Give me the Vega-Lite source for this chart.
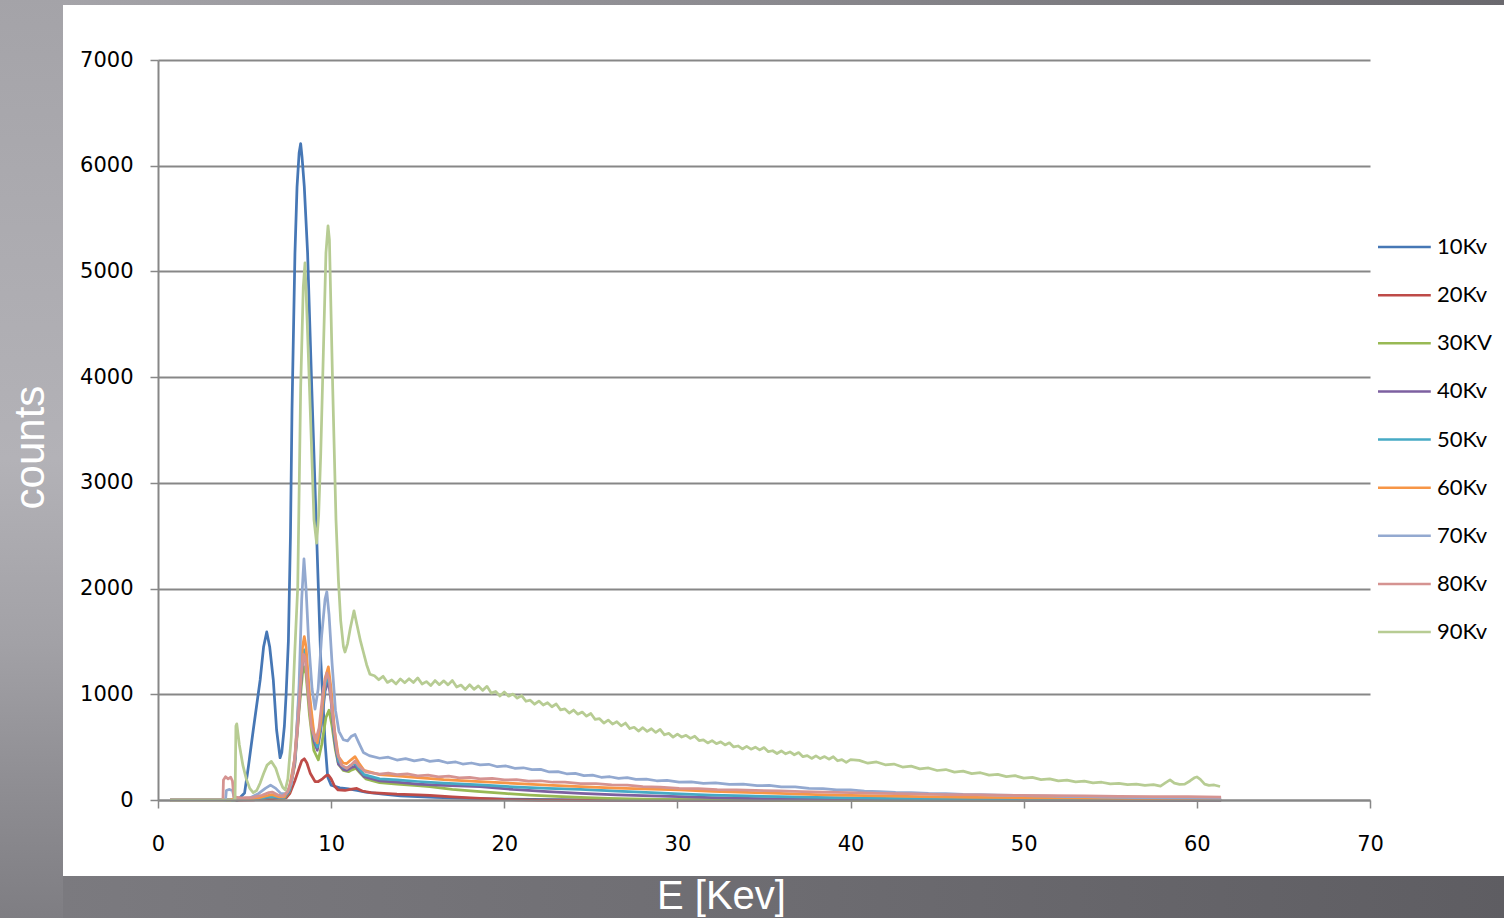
{
"$schema": "https://vega.github.io/schema/vega-lite/v6.json",
"width": 1212, "height": 740,
"autosize": {"type": "none"},
"padding": {"left": 158, "top": 60, "right": 134, "bottom": 118},
"background": "white",
"config": {"view": {"stroke": null}},
"datasets": {
"spectra": [
{"s":"10Kv","e":0.7,"c":0},{"s":"10Kv","e":4.6,"c":0},{"s":"10Kv","e":5.0,"c":66},{"s":"10Kv","e":5.22,"c":315},{"s":"10Kv","e":5.5,"c":660},{"s":"10Kv","e":5.9,"c":1135},{"s":"10Kv","e":6.1,"c":1450},{"s":"10Kv","e":6.28,"c":1590},{"s":"10Kv","e":6.45,"c":1450},{"s":"10Kv","e":6.66,"c":1135},{"s":"10Kv","e":6.85,"c":662},{"s":"10Kv","e":7.05,"c":400},{"s":"10Kv","e":7.15,"c":450},{"s":"10Kv","e":7.3,"c":700},{"s":"10Kv","e":7.4,"c":1000},{"s":"10Kv","e":7.53,"c":1500},{"s":"10Kv","e":7.65,"c":2500},{"s":"10Kv","e":7.74,"c":3700},{"s":"10Kv","e":7.91,"c":5175},{"s":"10Kv","e":8.03,"c":5800},{"s":"10Kv","e":8.15,"c":6120},{"s":"10Kv","e":8.24,"c":6210},{"s":"10Kv","e":8.32,"c":6080},{"s":"10Kv","e":8.45,"c":5800},{"s":"10Kv","e":8.64,"c":5175},{"s":"10Kv","e":8.88,"c":3900},{"s":"10Kv","e":9.07,"c":2960},{"s":"10Kv","e":9.26,"c":2015},{"s":"10Kv","e":9.4,"c":1324},{"s":"10Kv","e":9.65,"c":540},{"s":"10Kv","e":9.8,"c":218},{"s":"10Kv","e":10.0,"c":140},{"s":"10Kv","e":10.5,"c":115},{"s":"10Kv","e":11.0,"c":105},{"s":"10Kv","e":11.5,"c":90},{"s":"10Kv","e":12.0,"c":75},{"s":"10Kv","e":13,"c":55},{"s":"10Kv","e":14,"c":40},{"s":"10Kv","e":16,"c":25},{"s":"10Kv","e":18,"c":15},{"s":"10Kv","e":20,"c":8},{"s":"10Kv","e":23,"c":3},{"s":"10Kv","e":26,"c":0},{"s":"10Kv","e":61.4,"c":0},
{"s":"20Kv","e":0.7,"c":0},{"s":"20Kv","e":4.4,"c":0},{"s":"20Kv","e":5.5,"c":2},{"s":"20Kv","e":6.5,"c":15},{"s":"20Kv","e":7.0,"c":10},{"s":"20Kv","e":7.4,"c":20},{"s":"20Kv","e":7.62,"c":63},{"s":"20Kv","e":7.9,"c":180},{"s":"20Kv","e":8.15,"c":300},{"s":"20Kv","e":8.3,"c":370},{"s":"20Kv","e":8.45,"c":390},{"s":"20Kv","e":8.6,"c":350},{"s":"20Kv","e":8.8,"c":250},{"s":"20Kv","e":9.07,"c":175},{"s":"20Kv","e":9.26,"c":175},{"s":"20Kv","e":9.5,"c":200},{"s":"20Kv","e":9.7,"c":230},{"s":"20Kv","e":9.84,"c":236},{"s":"20Kv","e":10.0,"c":200},{"s":"20Kv","e":10.2,"c":130},{"s":"20Kv","e":10.4,"c":95},{"s":"20Kv","e":10.8,"c":90},{"s":"20Kv","e":11.1,"c":100},{"s":"20Kv","e":11.48,"c":110},{"s":"20Kv","e":11.8,"c":85},{"s":"20Kv","e":12.3,"c":70},{"s":"20Kv","e":12.8,"c":65},{"s":"20Kv","e":13.8,"c":55},{"s":"20Kv","e":15.0,"c":48},{"s":"20Kv","e":15.7,"c":44},{"s":"20Kv","e":17.0,"c":30},{"s":"20Kv","e":18.6,"c":16},{"s":"20Kv","e":20.0,"c":5},{"s":"20Kv","e":21,"c":1},{"s":"20Kv","e":22,"c":0},{"s":"20Kv","e":61.4,"c":0},
{"s":"30KV","e":0.7,"c":0},{"s":"30KV","e":4.4,"c":0},{"s":"30KV","e":5.5,"c":5},{"s":"30KV","e":6.5,"c":25},{"s":"30KV","e":7.0,"c":15},{"s":"30KV","e":7.3,"c":15},{"s":"30KV","e":7.6,"c":80},{"s":"30KV","e":7.9,"c":330},{"s":"30KV","e":8.15,"c":850},{"s":"30KV","e":8.35,"c":1200},{"s":"30KV","e":8.45,"c":1260},{"s":"30KV","e":8.55,"c":1190},{"s":"30KV","e":8.75,"c":800},{"s":"30KV","e":9.0,"c":470},{"s":"30KV","e":9.26,"c":380},{"s":"30KV","e":9.45,"c":520},{"s":"30KV","e":9.7,"c":780},{"s":"30KV","e":9.88,"c":850},{"s":"30KV","e":10.05,"c":700},{"s":"30KV","e":10.25,"c":470},{"s":"30KV","e":10.42,"c":340},{"s":"30KV","e":10.7,"c":280},{"s":"30KV","e":11.0,"c":268},{"s":"30KV","e":11.2,"c":285},{"s":"30KV","e":11.43,"c":300},{"s":"30KV","e":11.7,"c":250},{"s":"30KV","e":12.0,"c":200},{"s":"30KV","e":12.8,"c":165},{"s":"30KV","e":13.8,"c":150},{"s":"30KV","e":15.0,"c":135},{"s":"30KV","e":15.7,"c":126},{"s":"30KV","e":17.0,"c":100},{"s":"30KV","e":18.6,"c":79},{"s":"30KV","e":20.0,"c":62},{"s":"30KV","e":21.5,"c":47},{"s":"30KV","e":23.0,"c":35},{"s":"30KV","e":24.4,"c":25},{"s":"30KV","e":26,"c":15},{"s":"30KV","e":27.3,"c":10},{"s":"30KV","e":29,"c":6},{"s":"30KV","e":31,"c":3},{"s":"30KV","e":34,"c":1},{"s":"30KV","e":36,"c":0},{"s":"30KV","e":61.4,"c":0},
{"s":"40Kv","e":0.7,"c":0},{"s":"40Kv","e":4.4,"c":0},{"s":"40Kv","e":5.5,"c":5},{"s":"40Kv","e":6.5,"c":30},{"s":"40Kv","e":7.0,"c":20},{"s":"40Kv","e":7.3,"c":20},{"s":"40Kv","e":7.6,"c":90},{"s":"40Kv","e":7.9,"c":350},{"s":"40Kv","e":8.15,"c":900},{"s":"40Kv","e":8.35,"c":1300},{"s":"40Kv","e":8.45,"c":1380},{"s":"40Kv","e":8.55,"c":1300},{"s":"40Kv","e":8.75,"c":900},{"s":"40Kv","e":9.0,"c":560},{"s":"40Kv","e":9.2,"c":470},{"s":"40Kv","e":9.4,"c":660},{"s":"40Kv","e":9.65,"c":1030},{"s":"40Kv","e":9.84,"c":1130},{"s":"40Kv","e":10.0,"c":930},{"s":"40Kv","e":10.2,"c":560},{"s":"40Kv","e":10.42,"c":340},{"s":"40Kv","e":10.7,"c":290},{"s":"40Kv","e":10.9,"c":280},{"s":"40Kv","e":11.15,"c":305},{"s":"40Kv","e":11.38,"c":320},{"s":"40Kv","e":11.6,"c":280},{"s":"40Kv","e":11.9,"c":220},{"s":"40Kv","e":12.8,"c":180},{"s":"40Kv","e":13.8,"c":168},{"s":"40Kv","e":15,"c":150},{"s":"40Kv","e":16.5,"c":138},{"s":"40Kv","e":18.6,"c":126},{"s":"40Kv","e":20.5,"c":100},{"s":"40Kv","e":22.5,"c":80},{"s":"40Kv","e":24.4,"c":63},{"s":"40Kv","e":26.5,"c":48},{"s":"40Kv","e":28.5,"c":38},{"s":"40Kv","e":30.1,"c":31},{"s":"40Kv","e":32,"c":23},{"s":"40Kv","e":34,"c":15},{"s":"40Kv","e":35.9,"c":10},{"s":"40Kv","e":38,"c":6},{"s":"40Kv","e":41,"c":3},{"s":"40Kv","e":45,"c":1},{"s":"40Kv","e":50,"c":0},{"s":"40Kv","e":61.4,"c":0},
{"s":"50Kv","e":0.7,"c":0},{"s":"50Kv","e":4.3,"c":0},{"s":"50Kv","e":5.0,"c":5},{"s":"50Kv","e":6.0,"c":20},{"s":"50Kv","e":6.5,"c":35},{"s":"50Kv","e":7.0,"c":25},{"s":"50Kv","e":7.3,"c":25},{"s":"50Kv","e":7.6,"c":100},{"s":"50Kv","e":7.9,"c":380},{"s":"50Kv","e":8.15,"c":950},{"s":"50Kv","e":8.35,"c":1350},{"s":"50Kv","e":8.45,"c":1420},{"s":"50Kv","e":8.55,"c":1350},{"s":"50Kv","e":8.75,"c":950},{"s":"50Kv","e":9.0,"c":600},{"s":"50Kv","e":9.2,"c":500},{"s":"50Kv","e":9.4,"c":700},{"s":"50Kv","e":9.65,"c":1080},{"s":"50Kv","e":9.84,"c":1180},{"s":"50Kv","e":10.0,"c":980},{"s":"50Kv","e":10.2,"c":600},{"s":"50Kv","e":10.42,"c":370},{"s":"50Kv","e":10.7,"c":310},{"s":"50Kv","e":10.9,"c":300},{"s":"50Kv","e":11.15,"c":330},{"s":"50Kv","e":11.38,"c":350},{"s":"50Kv","e":11.6,"c":300},{"s":"50Kv","e":11.9,"c":240},{"s":"50Kv","e":12.8,"c":200},{"s":"50Kv","e":13.8,"c":190},{"s":"50Kv","e":15,"c":175},{"s":"50Kv","e":16.5,"c":160},{"s":"50Kv","e":18.6,"c":142},{"s":"50Kv","e":20.5,"c":125},{"s":"50Kv","e":22.5,"c":110},{"s":"50Kv","e":24.4,"c":101},{"s":"50Kv","e":26.5,"c":85},{"s":"50Kv","e":28.5,"c":70},{"s":"50Kv","e":30.1,"c":57},{"s":"50Kv","e":32,"c":47},{"s":"50Kv","e":34,"c":38},{"s":"50Kv","e":35.9,"c":31},{"s":"50Kv","e":38,"c":25},{"s":"50Kv","e":40,"c":20},{"s":"50Kv","e":41.7,"c":16},{"s":"50Kv","e":44,"c":13},{"s":"50Kv","e":47,"c":10},{"s":"50Kv","e":50,"c":8},{"s":"50Kv","e":55,"c":5},{"s":"50Kv","e":61.4,"c":3},
{"s":"60Kv","e":0.7,"c":0},{"s":"60Kv","e":4.2,"c":0},{"s":"60Kv","e":4.4,"c":15},{"s":"60Kv","e":5.0,"c":10},{"s":"60Kv","e":5.8,"c":20},{"s":"60Kv","e":6.4,"c":45},{"s":"60Kv","e":6.6,"c":50},{"s":"60Kv","e":7.0,"c":30},{"s":"60Kv","e":7.3,"c":30},{"s":"60Kv","e":7.6,"c":120},{"s":"60Kv","e":7.9,"c":400},{"s":"60Kv","e":8.15,"c":1000},{"s":"60Kv","e":8.35,"c":1450},{"s":"60Kv","e":8.45,"c":1545},{"s":"60Kv","e":8.55,"c":1450},{"s":"60Kv","e":8.75,"c":1000},{"s":"60Kv","e":9.0,"c":640},{"s":"60Kv","e":9.2,"c":540},{"s":"60Kv","e":9.4,"c":740},{"s":"60Kv","e":9.65,"c":1150},{"s":"60Kv","e":9.84,"c":1260},{"s":"60Kv","e":10.0,"c":1050},{"s":"60Kv","e":10.2,"c":650},{"s":"60Kv","e":10.42,"c":410},{"s":"60Kv","e":10.7,"c":350},{"s":"60Kv","e":10.9,"c":345},{"s":"60Kv","e":11.15,"c":380},{"s":"60Kv","e":11.38,"c":410},{"s":"60Kv","e":11.6,"c":350},{"s":"60Kv","e":11.9,"c":280},{"s":"60Kv","e":12.8,"c":240},{"s":"60Kv","e":13.8,"c":228},{"s":"60Kv","e":15,"c":212},{"s":"60Kv","e":16.5,"c":192},{"s":"60Kv","e":18.6,"c":173},{"s":"60Kv","e":20.5,"c":158},{"s":"60Kv","e":22.5,"c":140},{"s":"60Kv","e":24.4,"c":126},{"s":"60Kv","e":26.5,"c":112},{"s":"60Kv","e":28.5,"c":102},{"s":"60Kv","e":30.1,"c":95},{"s":"60Kv","e":32,"c":82},{"s":"60Kv","e":34,"c":72},{"s":"60Kv","e":35.9,"c":63},{"s":"60Kv","e":38,"c":52},{"s":"60Kv","e":40,"c":44},{"s":"60Kv","e":41.7,"c":38},{"s":"60Kv","e":44,"c":32},{"s":"60Kv","e":47,"c":26},{"s":"60Kv","e":50,"c":21},{"s":"60Kv","e":53,"c":17},{"s":"60Kv","e":56,"c":13},{"s":"60Kv","e":59,"c":10},{"s":"60Kv","e":61.4,"c":8},
{"s":"70Kv","e":0.7,"c":0},{"s":"70Kv","e":3.9,"c":0},{"s":"70Kv","e":3.95,"c":90},{"s":"70Kv","e":4.1,"c":100},{"s":"70Kv","e":4.3,"c":90},{"s":"70Kv","e":4.4,"c":20},{"s":"70Kv","e":4.8,"c":15},{"s":"70Kv","e":5.3,"c":20},{"s":"70Kv","e":5.8,"c":60},{"s":"70Kv","e":6.2,"c":110},{"s":"70Kv","e":6.5,"c":140},{"s":"70Kv","e":6.8,"c":110},{"s":"70Kv","e":7.1,"c":60},{"s":"70Kv","e":7.4,"c":60},{"s":"70Kv","e":7.7,"c":150},{"s":"70Kv","e":7.95,"c":450},{"s":"70Kv","e":8.15,"c":1100},{"s":"70Kv","e":8.3,"c":1900},{"s":"70Kv","e":8.43,"c":2280},{"s":"70Kv","e":8.55,"c":2000},{"s":"70Kv","e":8.7,"c":1500},{"s":"70Kv","e":8.9,"c":1050},{"s":"70Kv","e":9.07,"c":860},{"s":"70Kv","e":9.25,"c":1050},{"s":"70Kv","e":9.45,"c":1550},{"s":"70Kv","e":9.65,"c":1900},{"s":"70Kv","e":9.75,"c":1970},{"s":"70Kv","e":9.88,"c":1750},{"s":"70Kv","e":10.05,"c":1300},{"s":"70Kv","e":10.25,"c":850},{"s":"70Kv","e":10.45,"c":650},{"s":"70Kv","e":10.7,"c":570},{"s":"70Kv","e":10.95,"c":560},{"s":"70Kv","e":11.15,"c":600},{"s":"70Kv","e":11.38,"c":620},{"s":"70Kv","e":11.6,"c":540},{"s":"70Kv","e":11.86,"c":450},{"s":"70Kv","e":12.2,"c":420},{"s":"70Kv","e":12.8,"c":395},{"s":"70Kv","e":13.3,"c":405},{"s":"70Kv","e":13.8,"c":378},{"s":"70Kv","e":14.3,"c":392},{"s":"70Kv","e":14.8,"c":370},{"s":"70Kv","e":15.3,"c":385},{"s":"70Kv","e":15.7,"c":365},{"s":"70Kv","e":16.2,"c":375},{"s":"70Kv","e":16.7,"c":352},{"s":"70Kv","e":17.2,"c":360},{"s":"70Kv","e":17.6,"c":340},{"s":"70Kv","e":18.1,"c":350},{"s":"70Kv","e":18.6,"c":332},{"s":"70Kv","e":19.1,"c":338},{"s":"70Kv","e":19.6,"c":315},{"s":"70Kv","e":20.1,"c":322},{"s":"70Kv","e":20.6,"c":300},{"s":"70Kv","e":21.1,"c":305},{"s":"70Kv","e":21.6,"c":288},{"s":"70Kv","e":22.1,"c":290},{"s":"70Kv","e":22.6,"c":265},{"s":"70Kv","e":23.1,"c":268},{"s":"70Kv","e":23.6,"c":248},{"s":"70Kv","e":24.1,"c":252},{"s":"70Kv","e":24.6,"c":230},{"s":"70Kv","e":25.1,"c":235},{"s":"70Kv","e":25.6,"c":215},{"s":"70Kv","e":26.1,"c":220},{"s":"70Kv","e":26.6,"c":205},{"s":"70Kv","e":27.1,"c":212},{"s":"70Kv","e":27.6,"c":195},{"s":"70Kv","e":28.2,"c":198},{"s":"70Kv","e":28.8,"c":182},{"s":"70Kv","e":29.4,"c":186},{"s":"70Kv","e":30.1,"c":170},{"s":"70Kv","e":30.8,"c":172},{"s":"70Kv","e":31.5,"c":158},{"s":"70Kv","e":32.2,"c":162},{"s":"70Kv","e":33.0,"c":148},{"s":"70Kv","e":33.8,"c":150},{"s":"70Kv","e":34.6,"c":136},{"s":"70Kv","e":35.3,"c":138},{"s":"70Kv","e":36.0,"c":124},{"s":"70Kv","e":36.8,"c":124},{"s":"70Kv","e":37.6,"c":110},{"s":"70Kv","e":38.4,"c":108},{"s":"70Kv","e":39.2,"c":96},{"s":"70Kv","e":40.0,"c":95},{"s":"70Kv","e":40.8,"c":84},{"s":"70Kv","e":41.7,"c":80},{"s":"70Kv","e":42.6,"c":72},{"s":"70Kv","e":43.5,"c":70},{"s":"70Kv","e":44.5,"c":62},{"s":"70Kv","e":45.5,"c":60},{"s":"70Kv","e":46.5,"c":53},{"s":"70Kv","e":47.5,"c":50},{"s":"70Kv","e":48.5,"c":45},{"s":"70Kv","e":49.5,"c":43},{"s":"70Kv","e":50.5,"c":38},{"s":"70Kv","e":51.5,"c":36},{"s":"70Kv","e":52.5,"c":32},{"s":"70Kv","e":53.5,"c":31},{"s":"70Kv","e":54.5,"c":27},{"s":"70Kv","e":55.5,"c":26},{"s":"70Kv","e":56.5,"c":23},{"s":"70Kv","e":57.5,"c":22},{"s":"70Kv","e":58.5,"c":20},{"s":"70Kv","e":59.5,"c":20},{"s":"70Kv","e":60.5,"c":17},{"s":"70Kv","e":61.4,"c":15},
{"s":"80Kv","e":0.7,"c":0},{"s":"80Kv","e":3.75,"c":0},{"s":"80Kv","e":3.78,"c":190},{"s":"80Kv","e":3.9,"c":220},{"s":"80Kv","e":4.05,"c":200},{"s":"80Kv","e":4.2,"c":215},{"s":"80Kv","e":4.3,"c":180},{"s":"80Kv","e":4.38,"c":30},{"s":"80Kv","e":4.8,"c":20},{"s":"80Kv","e":5.5,"c":25},{"s":"80Kv","e":6.0,"c":45},{"s":"80Kv","e":6.4,"c":70},{"s":"80Kv","e":6.6,"c":75},{"s":"80Kv","e":6.9,"c":50},{"s":"80Kv","e":7.2,"c":35},{"s":"80Kv","e":7.5,"c":80},{"s":"80Kv","e":7.8,"c":250},{"s":"80Kv","e":8.05,"c":650},{"s":"80Kv","e":8.25,"c":1150},{"s":"80Kv","e":8.4,"c":1380},{"s":"80Kv","e":8.5,"c":1350},{"s":"80Kv","e":8.65,"c":1050},{"s":"80Kv","e":8.85,"c":700},{"s":"80Kv","e":9.1,"c":560},{"s":"80Kv","e":9.3,"c":680},{"s":"80Kv","e":9.55,"c":1050},{"s":"80Kv","e":9.75,"c":1200},{"s":"80Kv","e":9.9,"c":1130},{"s":"80Kv","e":10.1,"c":780},{"s":"80Kv","e":10.35,"c":450},{"s":"80Kv","e":10.6,"c":330},{"s":"80Kv","e":10.9,"c":300},{"s":"80Kv","e":11.15,"c":330},{"s":"80Kv","e":11.38,"c":370},{"s":"80Kv","e":11.6,"c":320},{"s":"80Kv","e":12.0,"c":265},{"s":"80Kv","e":12.8,"c":245},{"s":"80Kv","e":13.3,"c":255},{"s":"80Kv","e":13.8,"c":240},{"s":"80Kv","e":14.4,"c":248},{"s":"80Kv","e":15.0,"c":228},{"s":"80Kv","e":15.6,"c":236},{"s":"80Kv","e":16.2,"c":218},{"s":"80Kv","e":16.8,"c":225},{"s":"80Kv","e":17.4,"c":210},{"s":"80Kv","e":18.0,"c":215},{"s":"80Kv","e":18.6,"c":200},{"s":"80Kv","e":19.3,"c":205},{"s":"80Kv","e":20.0,"c":190},{"s":"80Kv","e":20.7,"c":193},{"s":"80Kv","e":21.4,"c":178},{"s":"80Kv","e":22.1,"c":182},{"s":"80Kv","e":22.8,"c":168},{"s":"80Kv","e":23.5,"c":170},{"s":"80Kv","e":24.4,"c":156},{"s":"80Kv","e":25.3,"c":155},{"s":"80Kv","e":26.2,"c":142},{"s":"80Kv","e":27.1,"c":140},{"s":"80Kv","e":28.0,"c":126},{"s":"80Kv","e":29.0,"c":122},{"s":"80Kv","e":30.1,"c":110},{"s":"80Kv","e":31.2,"c":108},{"s":"80Kv","e":32.3,"c":98},{"s":"80Kv","e":33.4,"c":96},{"s":"80Kv","e":34.5,"c":90},{"s":"80Kv","e":35.9,"c":86},{"s":"80Kv","e":37.2,"c":80},{"s":"80Kv","e":38.5,"c":75},{"s":"80Kv","e":40.0,"c":70},{"s":"80Kv","e":41.7,"c":63},{"s":"80Kv","e":43.5,"c":58},{"s":"80Kv","e":45.5,"c":52},{"s":"80Kv","e":47.5,"c":48},{"s":"80Kv","e":49.5,"c":44},{"s":"80Kv","e":51.5,"c":41},{"s":"80Kv","e":53.5,"c":38},{"s":"80Kv","e":55.5,"c":35},{"s":"80Kv","e":57.5,"c":33},{"s":"80Kv","e":59.5,"c":31},{"s":"80Kv","e":61.4,"c":28},
{"s":"90Kv","e":0.7,"c":0},{"s":"90Kv","e":4.3,"c":0},{"s":"90Kv","e":4.45,"c":0},{"s":"90Kv","e":4.5,"c":700},{"s":"90Kv","e":4.55,"c":720},{"s":"90Kv","e":4.7,"c":520},{"s":"90Kv","e":4.9,"c":330},{"s":"90Kv","e":5.1,"c":200},{"s":"90Kv","e":5.3,"c":110},{"s":"90Kv","e":5.5,"c":70},{"s":"90Kv","e":5.7,"c":90},{"s":"90Kv","e":5.9,"c":160},{"s":"90Kv","e":6.1,"c":250},{"s":"90Kv","e":6.3,"c":330},{"s":"90Kv","e":6.55,"c":365},{"s":"90Kv","e":6.8,"c":300},{"s":"90Kv","e":7.0,"c":200},{"s":"90Kv","e":7.2,"c":120},{"s":"90Kv","e":7.35,"c":95},{"s":"90Kv","e":7.5,"c":200},{"s":"90Kv","e":7.7,"c":600},{"s":"90Kv","e":7.9,"c":1400},{"s":"90Kv","e":8.07,"c":2015},{"s":"90Kv","e":8.24,"c":3900},{"s":"90Kv","e":8.39,"c":4850},{"s":"90Kv","e":8.49,"c":5080},{"s":"90Kv","e":8.58,"c":4700},{"s":"90Kv","e":8.68,"c":4230},{"s":"90Kv","e":8.88,"c":3280},{"s":"90Kv","e":9.01,"c":2650},{"s":"90Kv","e":9.16,"c":2430},{"s":"90Kv","e":9.28,"c":2700},{"s":"90Kv","e":9.4,"c":3280},{"s":"90Kv","e":9.55,"c":4230},{"s":"90Kv","e":9.7,"c":5175},{"s":"90Kv","e":9.82,"c":5430},{"s":"90Kv","e":9.9,"c":5300},{"s":"90Kv","e":10.09,"c":3900},{"s":"90Kv","e":10.28,"c":2650},{"s":"90Kv","e":10.42,"c":2080},{"s":"90Kv","e":10.55,"c":1700},{"s":"90Kv","e":10.71,"c":1450},{"s":"90Kv","e":10.8,"c":1400},{"s":"90Kv","e":10.95,"c":1480},{"s":"90Kv","e":11.1,"c":1620},{"s":"90Kv","e":11.32,"c":1790},{"s":"90Kv","e":11.5,"c":1650},{"s":"90Kv","e":11.7,"c":1500},{"s":"90Kv","e":11.86,"c":1400},{"s":"90Kv","e":12.05,"c":1280},{"s":"90Kv","e":12.24,"c":1190},
{"s":"90Kv","e":12.5,"c":1175},{"s":"90Kv","e":12.75,"c":1137},{"s":"90Kv","e":13.0,"c":1170},{"s":"90Kv","e":13.25,"c":1112},{"s":"90Kv","e":13.5,"c":1135},{"s":"90Kv","e":13.75,"c":1098},{"s":"90Kv","e":14.0,"c":1145},{"s":"90Kv","e":14.25,"c":1109},{"s":"90Kv","e":14.5,"c":1147},{"s":"90Kv","e":14.75,"c":1111},{"s":"90Kv","e":15.0,"c":1155},{"s":"90Kv","e":15.25,"c":1097},{"s":"90Kv","e":15.5,"c":1120},{"s":"90Kv","e":15.75,"c":1082},{"s":"90Kv","e":16.0,"c":1130},{"s":"90Kv","e":16.25,"c":1091},{"s":"90Kv","e":16.5,"c":1127},{"s":"90Kv","e":16.75,"c":1089},{"s":"90Kv","e":17.0,"c":1130},{"s":"90Kv","e":17.25,"c":1069},{"s":"90Kv","e":17.5,"c":1087},{"s":"90Kv","e":17.75,"c":1046},{"s":"90Kv","e":18.0,"c":1090},{"s":"90Kv","e":18.25,"c":1047},{"s":"90Kv","e":18.5,"c":1080},{"s":"90Kv","e":18.75,"c":1037},{"s":"90Kv","e":19.0,"c":1075},{"s":"90Kv","e":19.25,"c":1011},{"s":"90Kv","e":19.5,"c":1027},{"s":"90Kv","e":19.75,"c":984},{"s":"90Kv","e":20.0,"c":1021},{"s":"90Kv","e":20.25,"c":982},{"s":"90Kv","e":20.5,"c":1002},{"s":"90Kv","e":20.75,"c":963},{"s":"90Kv","e":21.0,"c":988},{"s":"90Kv","e":21.25,"c":934},{"s":"90Kv","e":21.5,"c":944},{"s":"90Kv","e":21.75,"c":906},{"s":"90Kv","e":22.0,"c":936},{"s":"90Kv","e":22.25,"c":898},{"s":"90Kv","e":22.5,"c":920},{"s":"90Kv","e":22.75,"c":882},{"s":"90Kv","e":23.0,"c":908},{"s":"90Kv","e":23.25,"c":853},{"s":"90Kv","e":23.5,"c":862},{"s":"90Kv","e":23.75,"c":822},{"s":"90Kv","e":24.0,"c":851},{"s":"90Kv","e":24.25,"c":812},{"s":"90Kv","e":24.5,"c":832},{"s":"90Kv","e":24.75,"c":793},{"s":"90Kv","e":25.0,"c":818},{"s":"90Kv","e":25.25,"c":762},{"s":"90Kv","e":25.5,"c":769},{"s":"90Kv","e":25.75,"c":728},{"s":"90Kv","e":26.0,"c":756},{"s":"90Kv","e":26.25,"c":718},{"s":"90Kv","e":26.5,"c":740},{"s":"90Kv","e":26.75,"c":702},{"s":"90Kv","e":27.0,"c":728},{"s":"90Kv","e":27.25,"c":676},{"s":"90Kv","e":27.5,"c":688},{"s":"90Kv","e":27.75,"c":652},{"s":"90Kv","e":28.0,"c":684},{"s":"90Kv","e":28.25,"c":649},{"s":"90Kv","e":28.5,"c":674},{"s":"90Kv","e":28.75,"c":639},{"s":"90Kv","e":29.0,"c":668},{"s":"90Kv","e":29.25,"c":617},{"s":"90Kv","e":29.5,"c":630},{"s":"90Kv","e":29.75,"c":595},{"s":"90Kv","e":30.0,"c":624},{"s":"90Kv","e":30.25,"c":595},{"s":"90Kv","e":30.5,"c":612},{"s":"90Kv","e":30.75,"c":583},{"s":"90Kv","e":31.0,"c":603},{"s":"90Kv","e":31.25,"c":562},{"s":"90Kv","e":31.5,"c":569},{"s":"90Kv","e":31.75,"c":540},{"s":"90Kv","e":32.0,"c":562},{"s":"90Kv","e":32.25,"c":533},{"s":"90Kv","e":32.5,"c":550},{"s":"90Kv","e":32.75,"c":521},{"s":"90Kv","e":33.0,"c":541},{"s":"90Kv","e":33.25,"c":502},{"s":"90Kv","e":33.5,"c":511},{"s":"90Kv","e":33.75,"c":483},{"s":"90Kv","e":34.0,"c":507},{"s":"90Kv","e":34.25,"c":481},{"s":"90Kv","e":34.5,"c":500},{"s":"90Kv","e":34.75,"c":474},{"s":"90Kv","e":35.0,"c":496},{"s":"90Kv","e":35.25,"c":457},{"s":"90Kv","e":35.5,"c":466},{"s":"90Kv","e":35.75,"c":440},{"s":"90Kv","e":36.0,"c":464},{"s":"90Kv","e":36.25,"c":437},{"s":"90Kv","e":36.5,"c":455},{"s":"90Kv","e":36.75,"c":428},{"s":"90Kv","e":37.0,"c":449},{"s":"90Kv","e":37.25,"c":410},{"s":"90Kv","e":37.5,"c":419},{"s":"90Kv","e":37.75,"c":393},{"s":"90Kv","e":38.0,"c":417},{"s":"90Kv","e":38.25,"c":392},{"s":"90Kv","e":38.5,"c":411},{"s":"90Kv","e":38.75,"c":386},{"s":"90Kv","e":39.0,"c":409},{"s":"90Kv","e":39.25,"c":371},{"s":"90Kv","e":39.5,"c":382},{"s":"90Kv","e":39.75,"c":356},{"s":"90Kv","e":40.0,"c":382},
{"s":"90Kv","e":40.5,"c":375},{"s":"90Kv","e":41.0,"c":348},{"s":"90Kv","e":41.5,"c":360},{"s":"90Kv","e":42.0,"c":333},{"s":"90Kv","e":42.5,"c":340},{"s":"90Kv","e":43.0,"c":312},{"s":"90Kv","e":43.5,"c":320},{"s":"90Kv","e":44.0,"c":294},{"s":"90Kv","e":44.5,"c":303},{"s":"90Kv","e":45.0,"c":279},{"s":"90Kv","e":45.5,"c":288},{"s":"90Kv","e":46.0,"c":264},{"s":"90Kv","e":46.5,"c":273},{"s":"90Kv","e":47.0,"c":250},{"s":"90Kv","e":47.5,"c":258},{"s":"90Kv","e":48.0,"c":235},{"s":"90Kv","e":48.5,"c":243},{"s":"90Kv","e":49.0,"c":221},{"s":"90Kv","e":49.5,"c":230},{"s":"90Kv","e":50.0,"c":207},{"s":"90Kv","e":50.5,"c":214},{"s":"90Kv","e":51.0,"c":193},{"s":"90Kv","e":51.5,"c":200},{"s":"90Kv","e":52.0,"c":181},{"s":"90Kv","e":52.5,"c":188},{"s":"90Kv","e":53.0,"c":172},{"s":"90Kv","e":53.5,"c":178},{"s":"90Kv","e":54.0,"c":162},{"s":"90Kv","e":54.5,"c":168},{"s":"90Kv","e":55.0,"c":152},{"s":"90Kv","e":55.5,"c":158},{"s":"90Kv","e":56.0,"c":145},{"s":"90Kv","e":56.5,"c":150},{"s":"90Kv","e":57.0,"c":138},{"s":"90Kv","e":57.5,"c":145},{"s":"90Kv","e":57.9,"c":132},{"s":"90Kv","e":58.2,"c":165},{"s":"90Kv","e":58.45,"c":190},{"s":"90Kv","e":58.7,"c":160},{"s":"90Kv","e":59.0,"c":148},{"s":"90Kv","e":59.3,"c":150},{"s":"90Kv","e":59.6,"c":180},{"s":"90Kv","e":59.85,"c":210},{"s":"90Kv","e":60.0,"c":218},{"s":"90Kv","e":60.2,"c":195},{"s":"90Kv","e":60.45,"c":150},{"s":"90Kv","e":60.7,"c":138},{"s":"90Kv","e":61.0,"c":142},{"s":"90Kv","e":61.34,"c":128}
]
},
"layer": [
{
"data": {"values": [{}]},
"mark": {"type": "rect", "fill": {"gradient": "linear", "x1": 0, "y1": 0, "x2": 0, "y2": 1, "stops": [{"offset": 0, "color": "#a4a3a8"}, {"offset": 0.25, "color": "#acabb0"}, {"offset": 0.5, "color": "#b3b2b7"}, {"offset": 0.7, "color": "#a2a1a6"}, {"offset": 0.85, "color": "#8f8e93"}, {"offset": 1, "color": "#7e7d82"}]}},
"encoding": {
"x": {"datum": -9.3, "type": "quantitative", "scale": {"domain": [0, 70], "nice": false}, "axis": null},
"x2": {"datum": -5.487},
"y": {"datum": 7600, "type": "quantitative", "scale": {"domain": [0, 7000], "nice": false},
"axis": {"orient": "right", "grid": true, "gridColor": "#878787", "gridWidth": 2, "labels": false, "ticks": false, "domain": false, "title": null, "values": [0, 1000, 2000, 3000, 4000, 5000, 6000, 7000], "zindex": 0}},
"y2": {"datum": -1150}
}
},
{
"data": {"values": [{}]},
"mark": {"type": "rect", "fill": {"gradient": "linear", "x1": 0, "y1": 0, "x2": 1, "y2": 0, "stops": [{"offset": 0, "color": "#7b7a7f"}, {"offset": 0.4, "color": "#706f74"}, {"offset": 1, "color": "#5e5d62"}]}},
"encoding": {
"x": {"datum": -5.487, "type": "quantitative", "scale": {"domain": [0, 70], "nice": false}, "axis": null},
"x2": {"datum": 78},
"y": {"datum": -718.9, "type": "quantitative", "scale": {"domain": [0, 7000], "nice": false}, "axis": null},
"y2": {"datum": -1150}
}
},
{
"data": {"values": [{}]},
"mark": {"type": "rect", "fill": {"gradient": "linear", "x1": 0, "y1": 0, "x2": 1, "y2": 0, "stops": [{"offset": 0, "color": "#a5a4a9"}, {"offset": 0.5, "color": "#8a898e"}, {"offset": 1, "color": "#6a696e"}]}},
"encoding": {
"x": {"datum": -5.487, "type": "quantitative", "scale": {"domain": [0, 70], "nice": false}, "axis": null},
"x2": {"datum": 78},
"y": {"datum": 7520.3, "type": "quantitative", "scale": {"domain": [0, 7000], "nice": false}, "axis": null},
"y2": {"datum": 7600}
}
},
{
"data": {"name": "spectra"},
"mark": {"type": "line", "strokeWidth": 2.75, "strokeJoin": "round"},
"encoding": {
"x": {"field": "e", "type": "quantitative", "scale": {"domain": [0, 70], "nice": false},
"axis": {"orient": "bottom", "values": [0, 10, 20, 30, 40, 50, 60, 70], "grid": false, "zindex": 1, "labelFlush": false, "labelOverlap": false, "tickSize": 8, "tickColor": "#878787", "tickWidth": 1.5, "domainColor": "#878787", "domainWidth": 2, "labelFont": "DejaVu Sans", "labelFontSize": 21, "labelColor": "#000000", "labelPadding": 25, "title": "E [Kev]", "titleFont": "Liberation Sans", "titleFontSize": 40, "titleFontWeight": "normal", "titleColor": "#ffffff", "titleX": 563, "titleY": 108, "titleAlign": "center", "titleBaseline": "alphabetic"}},
"y": {"field": "c", "type": "quantitative", "scale": {"domain": [0, 7000], "nice": false},
"axis": {"orient": "left", "values": [0, 1000, 2000, 3000, 4000, 5000, 6000, 7000], "format": "d", "grid": false, "zindex": 1, "labelFlush": false, "tickSize": 8, "tickColor": "#878787", "tickWidth": 1.5, "domainColor": "#878787", "domainWidth": 2, "labelFont": "DejaVu Sans", "labelFontSize": 21, "labelColor": "#000000", "labelPadding": 17, "title": "counts", "titleFont": "Liberation Sans", "titleFontSize": 42, "titleFontWeight": "normal", "titleColor": "#ffffff", "titleAngle": -90, "titleX": -115, "titleY": 387, "titleAlign": "center", "titleBaseline": "alphabetic"}},
"color": {"field": "s", "type": "nominal",
"scale": {"domain": ["10Kv", "20Kv", "30KV", "40Kv", "50Kv", "60Kv", "70Kv", "80Kv", "90Kv"], "range": ["#4677B5", "#BE4B48", "#98B954", "#7D60A0", "#46AAC5", "#F79646", "#93A9D0", "#D59391", "#B7CC93"]},
"legend": {"title": null, "orient": "none", "legendX": 1222.9, "legendY": 163.5, "direction": "vertical", "padding": 0, "symbolType": "M-1.2,0H1.2", "symbolSize": 1936, "symbolStrokeWidth": 2.5, "labelFont": "Lato", "labelFontSize": 22, "labelColor": "#000000", "labelOffset": 9, "rowPadding": 13.125}}
}
}
],
"resolve": {"axis": {"x": "independent", "y": "independent"}}
}
